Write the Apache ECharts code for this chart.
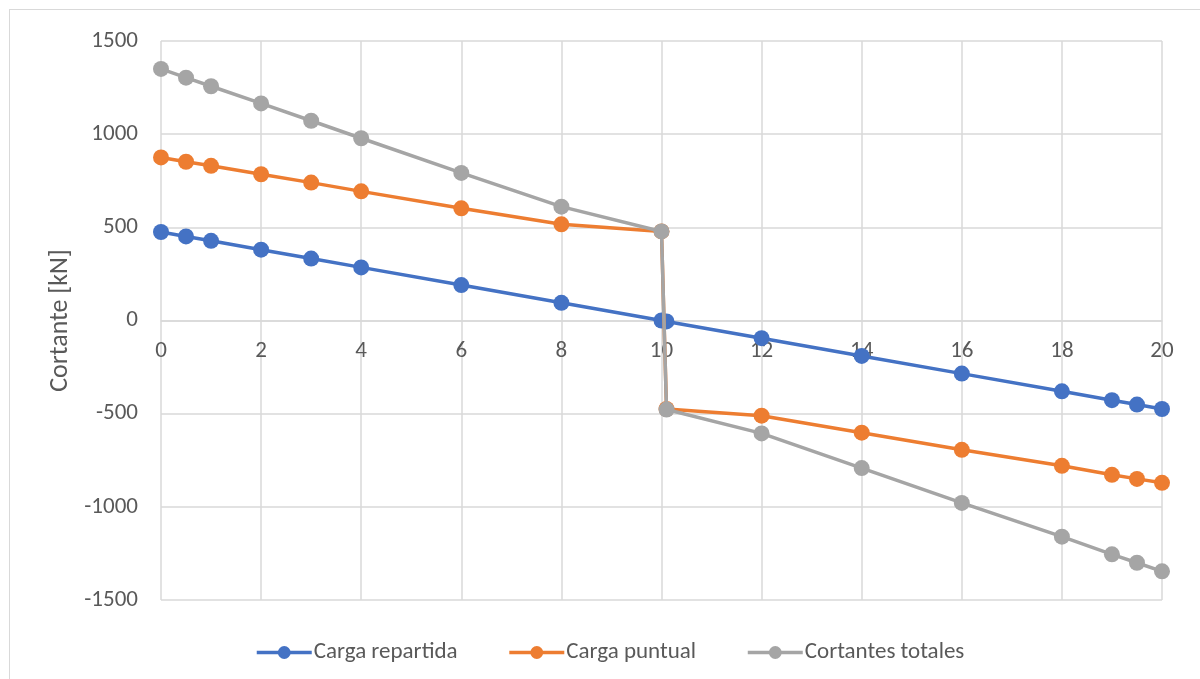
<!DOCTYPE html>
<html>
<head>
<meta charset="utf-8">
<script src="https://cdn.jsdelivr.net/npm/echarts@6/dist/echarts.min.js"></script>
<style>
  html, body { margin: 0; padding: 0; background: #ffffff; }
  #frame { position: absolute; left: 9px; top: 9px; width: 1200px; height: 700px; border: 1px solid #d9d9d9; box-sizing: border-box; }
  #chart { position: absolute; left: 0; top: 0; width: 1200px; height: 679px; }
</style>
</head>
<body>
<div id="frame"></div>
<div id="chart"></div>
<script>
// Positions along the beam [m]
const positions = [0, 0.5, 1, 2, 3, 4, 6, 8, 10, 10.1, 12, 14, 16, 18, 19, 19.5, 20];
// Shear from the distributed load [kN]
const cargaRepartida = [475, 451, 427.5, 380, 332.5, 285, 190, 95, 0, -5, -95, -190, -285, -380, -427.5, -451, -475];
// Shear from the point load [kN]
const cargaPuntual = [875, 852, 830, 785, 740, 693, 602, 516, 478, -475, -511, -602, -694, -780, -828, -850, -871];
// Total shear [kN]
const cortantesTotales = [1350, 1303, 1257, 1165, 1072, 978, 792, 611, 478, -478, -606, -792, -979, -1160, -1255, -1300, -1346];

const seriesNames = ['Carga repartida', 'Carga puntual', 'Cortantes totales'];
const seriesColors = ['#4472c4', '#ed7d31', '#a5a5a5'];
const seriesValues = [cargaRepartida, cargaPuntual, cortantesTotales];

const textColor = '#595959';
const gridColor = '#d9d9d9';
const fontFamily = 'Carlito, Lato, "Open Sans", "Liberation Sans", sans-serif';

const gridTop = 41, gridBottom = 79, chartHeight = 679;
// distance from the bottom of the plot to the zero line
const zeroOffset = (chartHeight - gridTop - gridBottom) / 2;

const chart = echarts.init(document.getElementById('chart'));
chart.setOption({
  animation: false,
  textStyle: { fontFamily: fontFamily },
  grid: { left: 161, right: 38, top: gridTop, bottom: gridBottom },
  legend: {
    bottom: 10,
    left: 250,
    itemWidth: 55,
    itemHeight: 16,
    itemGap: 50,
    lineStyle: { width: 3.5 },
    textStyle: { color: textColor, fontSize: 23, fontFamily: fontFamily, padding: [0, 0, 0, -3] },
    data: seriesNames
  },
  xAxis: {
    type: 'value',
    min: 0,
    max: 20,
    interval: 2,
    offset: -zeroOffset,
    axisLine: { onZero: false, lineStyle: { color: gridColor, width: 1.5 } },
    axisTick: { show: false },
    axisLabel: { color: textColor, fontSize: 23, margin: 19, fontFamily: fontFamily, formatter: v => String(v) },
    splitLine: { show: true, lineStyle: { color: gridColor, width: 1.5 } }
  },
  yAxis: {
    type: 'value',
    min: -1500,
    max: 1500,
    interval: 500,
    name: 'Cortante [kN]',
    nameLocation: 'middle',
    nameGap: 84,
    nameTextStyle: { color: textColor, fontSize: 26, fontFamily: fontFamily },
    axisLine: { show: false, onZero: false },
    axisTick: { show: false },
    axisLabel: { color: textColor, fontSize: 23, margin: 23, fontFamily: fontFamily, formatter: v => String(v) },
    splitLine: { show: true, lineStyle: { color: gridColor, width: 1.5 } }
  },
  // later series are drawn over earlier ones
  series: seriesNames.map((name, i) => ({
    name: name,
    type: 'line',
    data: positions.map((x, j) => [x, seriesValues[i][j]]),
    symbol: 'circle',
    symbolSize: 16,
    showAllSymbol: true,
    lineStyle: { color: seriesColors[i], width: 3.5 },
    itemStyle: { color: seriesColors[i] },
    z: 2 + i
  }))
});
</script>
</body>
</html>
